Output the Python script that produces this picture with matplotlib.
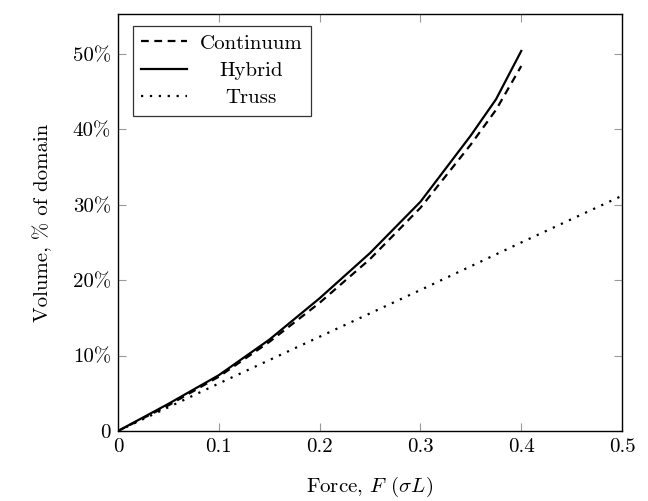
import numpy as np
import matplotlib
matplotlib.use('Agg')
import matplotlib.pyplot as plt

plt.rcParams['font.family'] = 'serif'
plt.rcParams['font.serif'] = ['cmr10', 'DejaVu Serif']
plt.rcParams['mathtext.fontset'] = 'cm'
plt.rcParams['axes.unicode_minus'] = False
plt.rcParams['axes.formatter.use_mathtext'] = True

# Data (volume in % of domain)
force = [0, 0.05, 0.1, 0.15, 0.2, 0.25, 0.3, 0.35, 0.375, 0.4]
continuum = [0, 3.4, 7.2, 11.8, 17.0, 22.8, 29.6, 38.0, 42.6, 48.4]
hybrid = [0, 3.6, 7.4, 12.1, 17.6, 23.6, 30.4, 39.2, 44.0, 50.4]
force_truss = [0, 0.1, 0.2, 0.3, 0.4, 0.5]
truss = [0, 6.3, 12.5, 18.7, 25.0, 31.2]

xticks = [0, 0.1, 0.2, 0.3, 0.4, 0.5]
xticklabels = ['0', '0.1', '0.2', '0.3', '0.4', '0.5']
yticks = [0, 10, 20, 30, 40, 50]
yticklabels = ['0', r'10%', r'20%', r'30%', r'40%', r'50%']

fig = plt.figure(figsize=(6.48, 5.01), dpi=100)
ax = fig.add_axes([0.182, 0.1397, 0.778, 0.8323])

ax.plot(force, continuum, color='black', lw=1.6, ls=(0, (3.5, 2.5)), label='Continuum')
ax.plot(force, hybrid, color='black', lw=1.6, ls='-', label='Hybrid')
ax.plot(force_truss, truss, color='black', lw=1.6, ls=(0, (1, 3)), label='Truss')

ax.set_xlim(0, 0.5)
ax.set_ylim(0, 55.3)
ax.set_xticks(xticks)
ax.set_xticklabels(xticklabels)
ax.set_yticks(yticks)
ax.set_yticklabels(yticklabels)
ax.tick_params(direction='in', length=6, width=0.8, color='#999999',
               top=True, right=True, labelsize=15, pad=5)
for s in ax.spines.values():
    s.set_linewidth(1.0)

ax.set_xlabel(r'Force, $F\;\,(\sigma L)$', fontsize=15, labelpad=14)
ax.set_ylabel('Volume, % of domain', fontsize=15, labelpad=15)

leg = ax.legend(loc='upper left', bbox_to_anchor=(0.03, 0.972), borderaxespad=0,
                fontsize=15, frameon=True, fancybox=False, edgecolor='black',
                handlelength=2.2, handletextpad=0.6, labelspacing=0.42,
                borderpad=0.4)
leg.get_frame().set_linewidth(0.9)

# center legend texts like pgfplots
fig.canvas.draw()
renderer = fig.canvas.get_renderer()
texts = leg.get_texts()
widths = [t.get_window_extent(renderer).width for t in texts]
w = max(widths)
for t, wi in zip(texts, widths):
    t.set_position(((w - wi) / 2, 0))

fig.savefig('out.png', dpi=100)
